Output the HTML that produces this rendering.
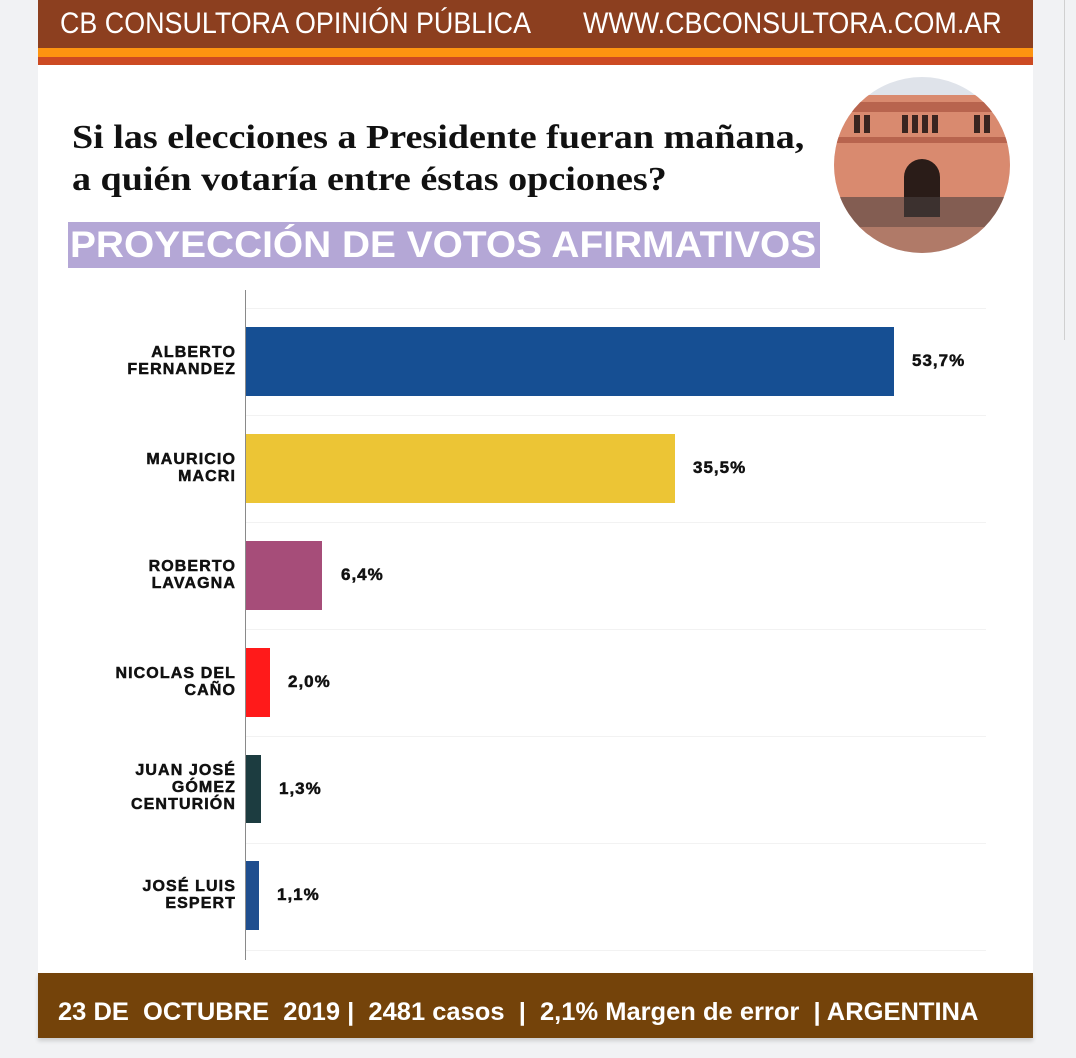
<!DOCTYPE html>
<html><head><meta charset="utf-8"><style>
html,body{margin:0;padding:0}
body{width:1076px;height:1058px;background:#f1f2f4;position:relative;overflow:hidden;font-family:"Liberation Sans",sans-serif}
.card{position:absolute;left:38px;top:0;width:995px;height:1038px;background:#fff}
.abs{position:absolute}
.hdr{left:38px;top:0;width:995px;height:48px;background:#8c3f1f}
.hdr span{position:absolute;top:9px;color:#fff;font-size:30px;line-height:30px;transform-origin:left top;transform:scaleX(0.896);white-space:nowrap}
.title{left:72px;font-family:"Liberation Serif",serif;font-weight:bold;font-size:34px;color:#111;white-space:nowrap;transform-origin:left top;transform:scaleX(1.12)}
.lbl{position:absolute;right:840px;text-align:right;font-weight:bold;font-size:16px;line-height:17px;color:#111;letter-spacing:1.1px;white-space:nowrap;-webkit-text-stroke:0.5px #111}
.val{position:absolute;font-weight:bold;font-size:17px;color:#111;letter-spacing:1px;-webkit-text-stroke:0.5px #111}
.bar{position:absolute;left:246px}
.grid{position:absolute;left:246px;width:740px;height:1px;background:#f2f2f2}
</style></head><body>
<div class="card"></div>
<div class="abs hdr"><span style="left:22px">CB CONSULTORA OPINIÓN PÚBLICA</span><span style="left:545px">WWW.CBCONSULTORA.COM.AR</span></div>
<div class="abs" style="left:38px;top:48px;width:995px;height:9px;background:#fd9410"></div>
<div class="abs" style="left:38px;top:57px;width:995px;height:8px;background:#cc4a22"></div>
<div class="abs" style="left:1064px;top:0;width:1px;height:340px;background:#d0d0d0"></div>

<div class="abs title" style="top:119px">Si las elecciones a Presidente fueran mañana,</div>
<div class="abs title" style="top:161px">a quién votaría entre éstas opciones?</div>
<div class="abs" style="left:68px;top:222px;width:752px;height:46px;background:#b4a7d6"></div>
<div class="abs" style="left:70px;top:224px;color:#fff;font-weight:bold;font-size:37px;line-height:42px;white-space:nowrap;transform-origin:left top;transform:scaleX(1.05)">PROYECCIÓN DE VOTOS AFIRMATIVOS</div>

<svg class="abs" style="left:834px;top:77px" width="176" height="176" viewBox="0 0 176 176">
<defs><clipPath id="c"><circle cx="88" cy="88" r="88"/></clipPath></defs>
<g clip-path="url(#c)">
<rect width="176" height="176" fill="#dfe3ea"/>
<rect y="18" width="176" height="140" fill="#d98a6f"/>
<rect y="25" width="176" height="10" fill="#b8644e"/>
<rect y="60" width="176" height="6" fill="#b8644e"/>
<g fill="#3a2520"><rect x="20" y="38" width="6" height="18"/><rect x="30" y="38" width="6" height="18"/><rect x="68" y="38" width="6" height="18"/><rect x="78" y="38" width="6" height="18"/><rect x="88" y="38" width="6" height="18"/><rect x="98" y="38" width="6" height="18"/><rect x="140" y="38" width="6" height="18"/><rect x="150" y="38" width="6" height="18"/></g>
<path d="M70 140 V100 a18 18 0 0 1 36 0 V140Z" fill="#2a1c18"/>
<rect y="120" width="176" height="30" fill="#4a4040" opacity="0.6"/>
<rect y="150" width="176" height="26" fill="#b07a68"/>
</g></svg>

<div class="abs" style="left:245px;top:290px;width:1px;height:670px;background:#8a8a8a"></div>
<div class="grid" style="top:308px"></div><div class="grid" style="top:415px"></div><div class="grid" style="top:522px"></div><div class="grid" style="top:629px"></div><div class="grid" style="top:736px"></div><div class="grid" style="top:843px"></div><div class="grid" style="top:950px"></div>

<div class="bar" style="top:327px;width:648px;height:69px;background:#164f93"></div>
<div class="bar" style="top:434px;width:429px;height:69px;background:#ecc535"></div>
<div class="bar" style="top:541px;width:76px;height:69px;background:#a64d79"></div>
<div class="bar" style="top:648px;width:24px;height:69px;background:#ff1a1a"></div>
<div class="bar" style="top:755px;width:15px;height:68px;background:#1c3c40"></div>
<div class="bar" style="top:861px;width:13px;height:69px;background:#1f4e8f"></div>

<div class="lbl" style="top:344px">ALBERTO<br>FERNANDEZ</div>
<div class="lbl" style="top:451px">MAURICIO<br>MACRI</div>
<div class="lbl" style="top:558px">ROBERTO<br>LAVAGNA</div>
<div class="lbl" style="top:665px">NICOLAS DEL<br>CAÑO</div>
<div class="lbl" style="top:762px">JUAN JOSÉ<br>GÓMEZ<br>CENTURIÓN</div>
<div class="lbl" style="top:878px">JOSÉ LUIS<br>ESPERT</div>

<div class="val" style="left:912px;top:351px">53,7%</div>
<div class="val" style="left:693px;top:458px">35,5%</div>
<div class="val" style="left:341px;top:565px">6,4%</div>
<div class="val" style="left:288px;top:672px">2,0%</div>
<div class="val" style="left:279px;top:779px">1,3%</div>
<div class="val" style="left:277px;top:885px">1,1%</div>

<div class="abs" style="left:38px;top:973px;width:995px;height:65px;background:#74430a;box-shadow:0 3px 4px rgba(0,0,0,0.15)"></div>
<div class="abs" style="left:58px;top:998px;color:#fff;font-weight:bold;font-size:25px;line-height:28px;white-space:nowrap;transform-origin:left top;transform:scaleX(1.02)">23 DE&nbsp; OCTUBRE&nbsp; 2019 |&nbsp; 2481 casos&nbsp; |&nbsp; 2,1% Margen de error&nbsp; | ARGENTINA</div>
</body></html>
